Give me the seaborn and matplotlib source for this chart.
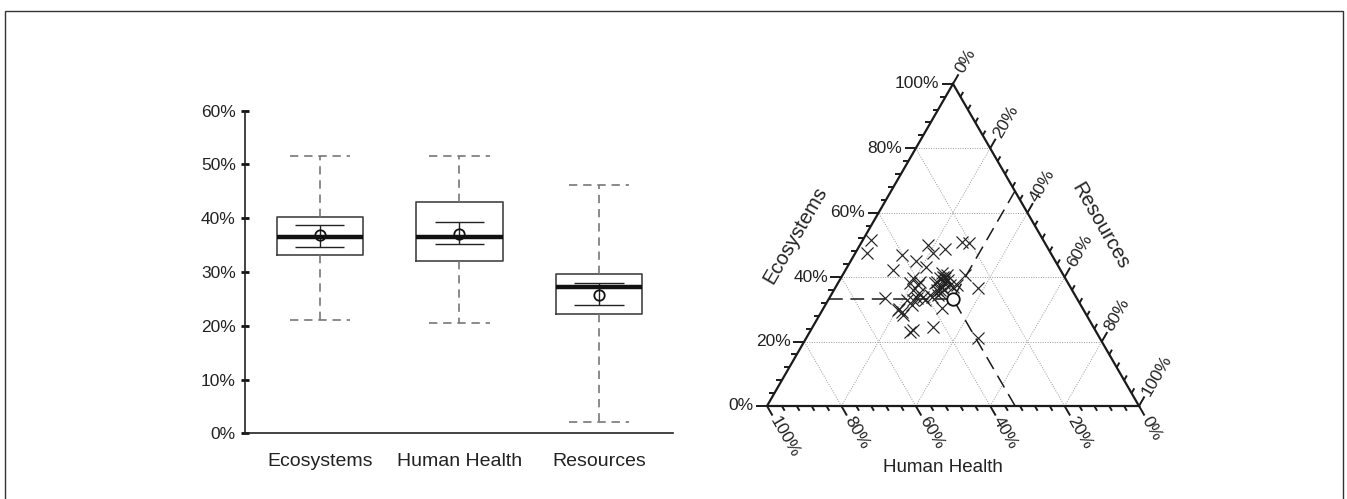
import numpy as np
import matplotlib
matplotlib.use("Agg")
import matplotlib.pyplot as plt
import seaborn as sns
from matplotlib.patches import Rectangle

# ---------------- data ----------------
categories = ["Ecosystems", "Human Health", "Resources"]
box_whislo = [21.1, 20.5, 2.1]
box_q1 = [33.2, 32.0, 22.2]
box_med = [36.6, 36.5, 27.2]
box_q3 = [40.2, 43.0, 29.6]
box_whishi = [51.5, 51.5, 46.2]
box_mean = [36.8, 37.1, 25.8]
ci_lo = [34.7, 35.3, 23.8]
ci_hi = [38.7, 39.3, 27.9]
y_ticks = [0, 10, 20, 30, 40, 50, 60]

tern_eco = [51.5, 47.4, 46.9, 42.2, 45.1, 43.0, 50.0, 47.4, 48.6, 51.0, 50.5, 39.6, 38.6, 36.0,
            35.0, 33.9, 32.9, 33.4, 29.8, 29.3, 28.2, 31.3, 34.5, 38.6, 41.2, 39.6, 38.1, 36.0,
            34.5, 30.3, 39.1, 37.6, 40.7, 36.5, 33.6, 23.1, 23.6, 24.6, 21.1, 39.6, 40.7, 37.6,
            36.0, 37.0, 37.0, 38.1, 32.9, 32.9, 33.9, 38.2, 36.0, 30.1, 40.0, 38.8, 35.2, 37.6]
tern_hh = [46.4, 49.3, 40.3, 45.1, 37.4, 35.8, 31.6, 31.6, 27.9, 22.2, 20.4, 41.0, 39.6, 42.7,
           41.6, 41.1, 44.2, 43.0, 49.9, 49.1, 49.3, 45.5, 38.9, 35.1, 32.4, 32.4, 33.5, 35.5,
           36.7, 37.9, 31.7, 30.2, 26.4, 25.0, 51.5, 50.0, 48.9, 43.0, 32.7, 33.7, 31.3, 32.0,
           36.4, 34.5, 31.4, 42.5, 46.0, 41.1, 38.8, 35.7, 34.4, 49.5, 32.8, 33.0, 36.0, 40.5]
tern_res = [2.1, 3.3, 12.8, 12.7, 17.5, 21.2, 18.4, 21.0, 23.5, 26.8, 29.1, 19.4, 21.8, 21.3,
            23.4, 25.0, 22.9, 23.6, 20.3, 21.6, 22.5, 23.2, 26.6, 26.3, 26.4, 28.0, 28.4, 28.5,
            28.8, 31.8, 29.2, 32.2, 32.9, 38.5, 14.9, 26.9, 27.5, 32.4, 46.2, 26.7, 28.0, 30.4,
            27.6, 28.5, 31.6, 19.4, 21.1, 26.0, 27.3, 26.1, 29.6, 20.4, 27.2, 28.2, 28.8, 21.9]
ref_eco, ref_hh, ref_res = 33.3, 33.3, 33.3
tern_major = [0, 20, 40, 60, 80, 100]
tern_minor = list(range(0, 101, 4))

# ---------------- style ----------------
sns.set_style("white")
plt.rcParams['font.family'] = ['Liberation Sans', 'DejaVu Sans']
TXT = '#222222'

W, H = 1347, 499
fig = plt.figure(figsize=(W / 100, H / 100), dpi=100)

# figure frame
fig.add_artist(Rectangle((5 / W, -0.05), (1343 - 5) / W, 1 - 11 / H + 0.05,
                         transform=fig.transFigure, fill=False, edgecolor='#333333',
                         linewidth=1.0, clip_on=False))

# ---------------- box plot ----------------
ax = fig.add_axes([245 / W, (H - 433.3) / H, (673 - 245) / W, (433.3 - 110.7) / H])
stats = []
for i, c in enumerate(categories):
    stats.append(dict(label=c, whislo=box_whislo[i], q1=box_q1[i], med=box_med[i],
                      q3=box_q3[i], whishi=box_whishi[i], mean=box_mean[i]))
pos = np.arange(len(categories))
dash = (0, (5, 3.5))
ax.bxp(stats, positions=pos, widths=0.62, capwidths=0.435, showmeans=True,
       showfliers=False, patch_artist=False,
       boxprops=dict(color='#444444', linewidth=1.2),
       whiskerprops=dict(color='#777777', linewidth=1.2, linestyle=dash),
       capprops=dict(color='#777777', linewidth=1.2, linestyle=dash),
       medianprops=dict(color='#111111', linewidth=3.2),
       meanprops=dict(marker='o', markerfacecolor='none', markeredgecolor='#111111',
                      markersize=7.5, markeredgewidth=1.3))
ax.hlines(ci_hi, pos - 0.176, pos + 0.176, color='#222222', linewidth=1.0)
ax.hlines(ci_lo, pos - 0.176, pos + 0.176, color='#222222', linewidth=1.0)
ax.vlines(pos, ci_lo, ci_hi, color='#222222', linewidth=1.0)

ax.set_xlim(-0.537, 2.53)
ax.set_ylim(0, 60)
ax.set_yticks(y_ticks)
ax.set_yticklabels([f"{t}%" for t in y_ticks])
ax.set_xticks(pos)
ax.set_xticklabels(categories)
ax.tick_params(axis='y', direction='inout', length=6, width=2, pad=3.6,
               labelsize=12.5, labelcolor=TXT, color='#111111', left=True)
ax.tick_params(axis='x', length=0, pad=14, labelsize=14, labelcolor=TXT)
for s in ['top', 'right']:
    ax.spines[s].set_visible(False)
for s in ['left', 'bottom']:
    ax.spines[s].set_color('#222222')
    ax.spines[s].set_linewidth(1.2)
ax.grid(False)

# ---------------- ternary plot ----------------
S3 = np.sqrt(3) / 2
tax = fig.add_axes([700 / W, (H - 485) / H, 510 / W, 445 / H])
tax.set_xlim((700 - 767) / 372, (1210 - 767) / 372)
tax.set_ylim((406 - 485) / 372, (406 - 40) / 372)
tax.axis('off')


def proj(e, h, r):
    e = np.asarray(e, dtype=float) / 100
    r = np.asarray(r, dtype=float) / 100
    return r + e / 2, e * S3


grid_kw = dict(color='#9a9a9a', linewidth=0.7, linestyle=(0, (1, 1.5)), zorder=1)
for v in tern_major[1:-1]:
    x, y = proj([v, v], [100 - v, 0], [0, 100 - v])
    tax.plot(x, y, **grid_kw)
    x, y = proj([0, 100 - v], [100 - v, 0], [v, v])
    tax.plot(x, y, **grid_kw)
    x, y = proj([0, 100 - v], [v, v], [100 - v, 0])
    tax.plot(x, y, **grid_kw)

x, y = proj([0, 0, 100, 0], [100, 0, 0, 100], [0, 100, 0, 0])
tax.plot(x, y, color='#1a1a1a', linewidth=1.6, zorder=3, solid_joinstyle='miter')

LMAJ, LMIN = 11 / 372, 5.5 / 372
tick_kw = dict(color='#1a1a1a', linewidth=1.4, zorder=3, solid_capstyle='butt')
dirs = {'eco': np.array([-1.0, 0.0]), 'res': np.array([0.5, S3]), 'hh': np.array([0.5, -S3])}
for v in tern_minor:
    L = LMAJ if v in tern_major else LMIN
    p = np.array(proj(v, 100 - v, 0), dtype=float)
    q = p + dirs['eco'] * L
    tax.plot([p[0], q[0]], [p[1], q[1]], **tick_kw)
    p = np.array(proj(100 - v, 0, v), dtype=float)
    q = p + dirs['res'] * L
    tax.plot([p[0], q[0]], [p[1], q[1]], **tick_kw)
    p = np.array(proj(0, v, 100 - v), dtype=float)
    q = p + dirs['hh'] * L
    tax.plot([p[0], q[0]], [p[1], q[1]], **tick_kw)

gap = 2.5 / 372
for v in tern_major:
    lab = f"{v}%"
    p = np.array(proj(v, 100 - v, 0), dtype=float) + dirs['eco'] * (LMAJ + gap)
    tax.text(p[0], p[1], lab, ha='right', va='center', fontsize=12.5, color=TXT)
    p = np.array(proj(100 - v, 0, v), dtype=float) + dirs['res'] * (LMAJ + gap)
    tax.text(p[0], p[1], lab, ha='left', va='center', rotation=60,
             rotation_mode='anchor', fontsize=12.5, color=TXT)
    p = np.array(proj(0, v, 100 - v), dtype=float) + dirs['hh'] * (LMAJ + gap)
    tax.text(p[0], p[1], lab, ha='left', va='center', rotation=-60,
             rotation_mode='anchor', fontsize=12.5, color=TXT)

tax.text((795 - 767) / 372, (406 - 235) / 372, "Ecosystems", rotation=60,
         ha='center', va='center', fontsize=14.5, color=TXT)
tax.text((1100 - 767) / 372, (406 - 226) / 372, "Resources", rotation=-60,
         ha='center', va='center', fontsize=14.5, color=TXT)
tax.text((943 - 767) / 372, (406 - 467) / 372, "Human Health",
         ha='center', va='center', fontsize=13.5, color=TXT)

# reference point reading lines
px, py = proj(ref_eco, ref_hh, ref_res)
dash_kw = dict(color='#1a1a1a', linewidth=1.1, linestyle=(0, (9, 5)), zorder=2)
ex, ey = proj(ref_eco, 100 - ref_eco, 0)
tax.plot([ex, px], [ey, py], **dash_kw)
rx, ry = proj(100 - ref_res, 0, ref_res)
tax.plot([rx, px], [ry, py], **dash_kw)
hx, hy = proj(0, ref_hh, 100 - ref_hh)
tax.plot([hx, px], [hy, py], **dash_kw)

xs, ys = proj(tern_eco, tern_hh, tern_res)
sns.scatterplot(x=xs, y=ys, marker='x', s=75, color='#222222', linewidth=0.85,
                ax=tax, zorder=4, legend=False)
tax.plot([px], [py], marker='o', markerfacecolor='white', markeredgecolor='#111111',
         markersize=9, markeredgewidth=1.3, zorder=5)

fig.savefig("out.png", dpi=100)
